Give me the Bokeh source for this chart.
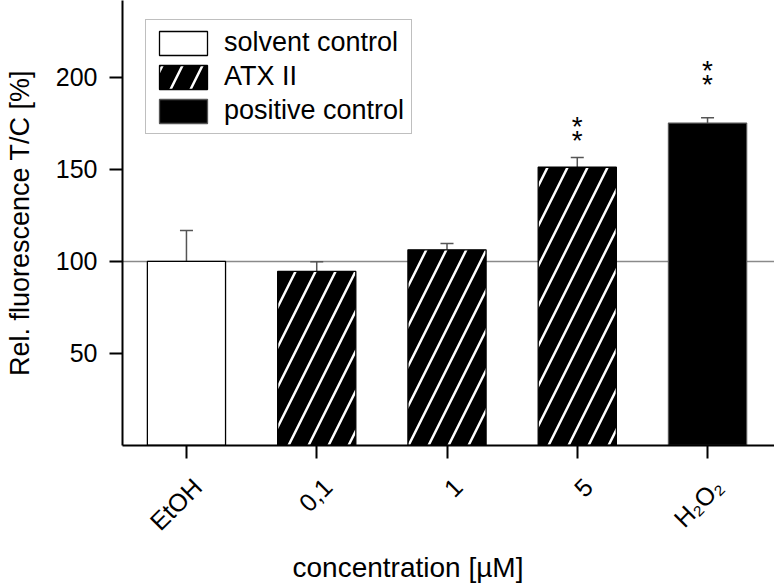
import math
from bokeh.plotting import figure
from bokeh.models import (ColumnDataSource, Whisker, TeeHead, Span, Legend,
                          LegendItem, FixedTicker, Title, LinearAxis, Range1d)
from bokeh.core.properties import value
from bokeh.embed import file_html
from bokeh.resources import INLINE

# ---- data ----
categories = ["EtOH", "0,1", "1", "5", "H₂O₂"]
means = [100.0, 94.6, 106.3, 151.2, 175.2]
errors = [16.8, 5.2, 3.5, 5.3, 2.9]
groups = ["solvent control", "ATX II", "ATX II", "ATX II", "positive control"]
significance = ["", "", "", "**", "**"]
sig_gap_px = [0, 0, 0, 17, 33]
y_ticks = [50, 100, 150, 200]
reference_level = 100

FONT = "Liberation Sans"
X0, X1 = -0.491, 4.514
LABEL_SHIFT = 0.084          # rotated category labels sit slightly right of their ticks
xs = list(range(len(categories)))
uppers = [m + e for m, e in zip(means, errors)]

p = figure(width=774, height=584, x_range=(X0, X1), y_range=(0, 241.8),
           output_backend="svg", toolbar_location=None,
           min_border_left=122, min_border_right=0, min_border_top=0,
           min_border_bottom=139)
p.xgrid.visible = False
p.ygrid.visible = False
p.outline_line_color = None
p.background_fill_color = "white"
p.border_fill_color = "white"

# reference line
p.add_layout(Span(location=reference_level, dimension="width", line_color="#8a8a8a",
                  line_width=1.5, level="underlay"))


def subset(g):
    idx = [i for i, gg in enumerate(groups) if gg == g]
    return ColumnDataSource(dict(x=[xs[i] for i in idx], top=[means[i] for i in idx]))


BAR_W = 0.6
r_solv = p.vbar(x="x", top="top", width=BAR_W, source=subset("solvent control"),
                fill_color="white", line_color="black", line_width=1.3)
r_atx = p.vbar(x="x", top="top", width=BAR_W, source=subset("ATX II"),
               fill_color="black", line_color="black", line_width=1.3,
               hatch_pattern="/", hatch_color="white", hatch_weight=2.5, hatch_scale=40)
r_pos = p.vbar(x="x", top="top", width=BAR_W, source=subset("positive control"),
               fill_color="black", line_color="#555555", line_width=1.3)

# error bars (upper only)
err_src = ColumnDataSource(dict(x=xs, lower=means, upper=uppers))
p.add_layout(Whisker(source=err_src, base="x", lower="lower", upper="upper",
                     line_color="#555555", line_width=1.5, lower_head=None,
                     upper_head=TeeHead(size=13, line_color="#555555", line_width=1.5)))

# significance stars
sx, sy, so1, so2 = [], [], [], []
for i, s in enumerate(significance):
    if s:
        sx.append(xs[i]); sy.append(uppers[i])
        so1.append(-sig_gap_px[i]); so2.append(-sig_gap_px[i] - 14)
star_src = ColumnDataSource(dict(x=sx, y=sy, o1=so1, o2=so2))
for off in ("o1", "o2"):
    p.text(x="x", y="y", text=value("*"), y_offset=off, source=star_src,
           text_font=value(FONT), text_font_size="28px", text_align="center",
           text_baseline="middle", text_color="black")

# ---- axes ----
for ax in (p.xaxis[0], p.yaxis[0]):
    ax.axis_line_width = 2
    ax.major_tick_line_width = 2
    ax.major_tick_out = 13
    ax.major_tick_in = 0
    ax.minor_tick_line_color = None
    ax.major_label_text_font = FONT
    ax.major_label_text_font_size = "25px"
    ax.major_label_text_color = "black"
    ax.axis_label_text_font = FONT
    ax.axis_label_text_font_size = "27px"
    ax.axis_label_text_font_style = "normal"
    ax.axis_label_text_color = "black"

p.yaxis.ticker = FixedTicker(ticks=y_ticks)
p.yaxis.major_label_standoff = 12
p.yaxis.axis_label = "Rel. fluorescence T/C [%]"
p.yaxis.axis_label_standoff = 18

# main x axis: line + ticks only
p.xaxis.ticker = FixedTicker(ticks=xs)
p.xaxis.major_label_overrides = {x: "" for x in xs}
p.xaxis.major_label_text_font_size = "1px"
p.xaxis.major_label_standoff = 0

# category labels on a companion axis (same ticks, offset a little to the right)
p.extra_x_ranges = {"labels": Range1d(X0 - LABEL_SHIFT, X1 - LABEL_SHIFT)}
lab_axis = LinearAxis(x_range_name="labels", ticker=FixedTicker(ticks=xs),
                      major_label_overrides={x: c for x, c in zip(xs, categories)},
                      major_label_orientation=math.pi / 4,
                      major_label_text_font=FONT, major_label_text_font_size="25px",
                      major_label_text_color="black", major_label_standoff=24,
                      axis_line_color=None, major_tick_line_color=None,
                      minor_tick_line_color=None, major_tick_out=0, major_tick_in=0)
p.add_layout(lab_axis, "below")

# x-axis title
p.add_layout(Title(text="concentration [µM]", align="left", offset=170,
                   text_font=FONT, text_font_size="28px", text_font_style="normal",
                   text_color="black", standoff=2), "below")

legend = Legend(items=[LegendItem(label="solvent control", renderers=[r_solv]),
                       LegendItem(label="ATX II", renderers=[r_atx]),
                       LegendItem(label="positive control", renderers=[r_pos])],
                location=(23, 311), glyph_width=60, glyph_height=30, label_height=30,
                spacing=3, padding=7, margin=0, label_standoff=11,
                label_text_font=FONT, label_text_font_size="27px",
                label_text_color="black",
                border_line_color="#808080", border_line_width=1.5,
                background_fill_color="white", background_fill_alpha=1)
p.add_layout(legend)

open("out.html", "w").write(file_html(p, INLINE))
